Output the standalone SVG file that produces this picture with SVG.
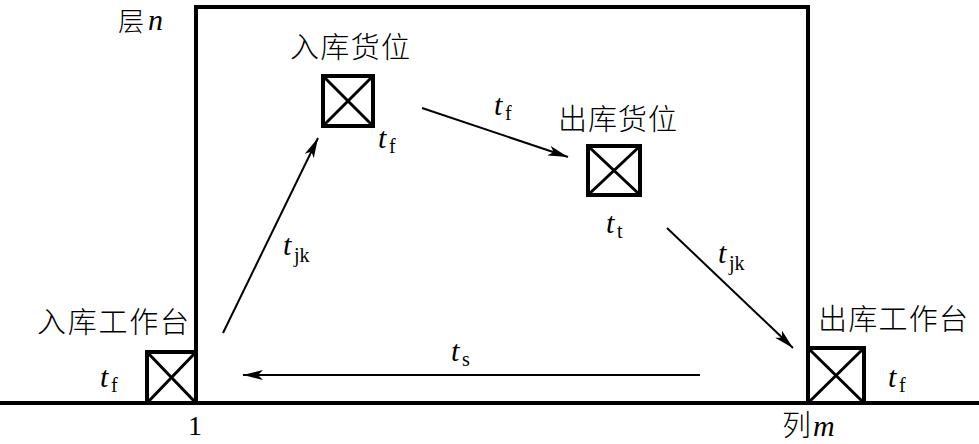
<svg xmlns="http://www.w3.org/2000/svg" width="979" height="444" viewBox="0 0 979 444">
<defs>
<style>
.frame{fill:none;stroke:#000;stroke-width:4}
.box{fill:#fff;stroke:#000;stroke-width:4}
.x{stroke:#000;stroke-width:3}
.conn{stroke:#000;stroke-width:2;fill:none;marker-end:url(#ah)}
.cn{font-family:"Noto Sans CJK SC","Liberation Serif",serif;font-size:29px;font-weight:300;fill:#000}
.it{font-family:"Liberation Serif",serif;font-size:30px;font-style:italic;fill:#000}
.sub{font-family:"Liberation Serif",serif;font-size:20px;fill:#000}
.num{font-family:"Liberation Serif",serif;font-size:28px;fill:#000}
</style>
<marker id="ah" viewBox="0 0 20 10" refX="20" refY="5" markerWidth="20" markerHeight="10" markerUnits="userSpaceOnUse" orient="auto">
<path d="M0,0 L20,5 L0,10 L5,5 Z" fill="#000"/>
</marker>
</defs>
<rect width="979" height="444" fill="#fff"/>
<g id="frame">
<line x1="0" y1="403" x2="979" y2="403" stroke="#000" stroke-width="4"/>
<polyline class="frame" points="196,403 196,7 808,7 808,403"/>
<text class="cn" x="118" y="31" style="font-size:26px">层</text><text class="it" x="148" y="30">n</text>
<text class="num" x="188" y="435">1</text>
<text class="cn" x="782" y="436">列</text><text class="it" x="813" y="436">m</text>
</g>
<g id="in-station">
<rect class="box" x="147" y="352" width="49" height="51"/>
<line class="x" x1="147" y1="352" x2="196" y2="403"/><line class="x" x1="196" y1="352" x2="147" y2="403"/>
<text class="cn" x="37" y="333" textLength="152" lengthAdjust="spacing">入库工作台</text>
<text class="it" x="100" y="387">t</text><text class="sub" x="111" y="392">f</text>
</g>
<g id="out-station">
<rect class="box" x="808" y="348" width="56" height="55"/>
<line class="x" x1="808" y1="348" x2="864" y2="403"/><line class="x" x1="864" y1="348" x2="808" y2="403"/>
<text class="cn" x="818" y="330" textLength="150" lengthAdjust="spacing">出库工作台</text>
<text class="it" x="888" y="387">t</text><text class="sub" x="899" y="392">f</text>
</g>
<g id="in-slot">
<rect class="box" x="323" y="76" width="50" height="50"/>
<line class="x" x1="323" y1="76" x2="373" y2="126"/><line class="x" x1="373" y1="76" x2="323" y2="126"/>
<text class="cn" x="290" y="58" textLength="120" lengthAdjust="spacing">入库货位</text>
<text class="it" x="378" y="148">t</text><text class="sub" x="389" y="153">f</text>
</g>
<g id="out-slot">
<rect class="box" x="588" y="146" width="52" height="49"/>
<line class="x" x1="588" y1="146" x2="640" y2="195"/><line class="x" x1="640" y1="146" x2="588" y2="195"/>
<text class="cn" x="558" y="130" textLength="119" lengthAdjust="spacing">出库货位</text>
<text class="it" x="606" y="233">t</text><text class="sub" x="617" y="238">t</text>
</g>
<g id="connectors">
<line class="conn" x1="223" y1="333" x2="318" y2="138"/>
<line class="conn" x1="422" y1="108" x2="568" y2="157"/>
<line class="conn" x1="667" y1="228" x2="793" y2="348"/>
<line class="conn" x1="700" y1="375" x2="243" y2="375"/>
<text class="it" x="283" y="255">t</text><text class="sub" x="294" y="262">jk</text>
<text class="it" x="494" y="115">t</text><text class="sub" x="505" y="120">f</text>
<text class="it" x="718" y="263">t</text><text class="sub" x="729" y="270">jk</text>
<text class="it" x="451" y="361">t</text><text class="sub" x="462" y="366">s</text>
</g>
</svg>
